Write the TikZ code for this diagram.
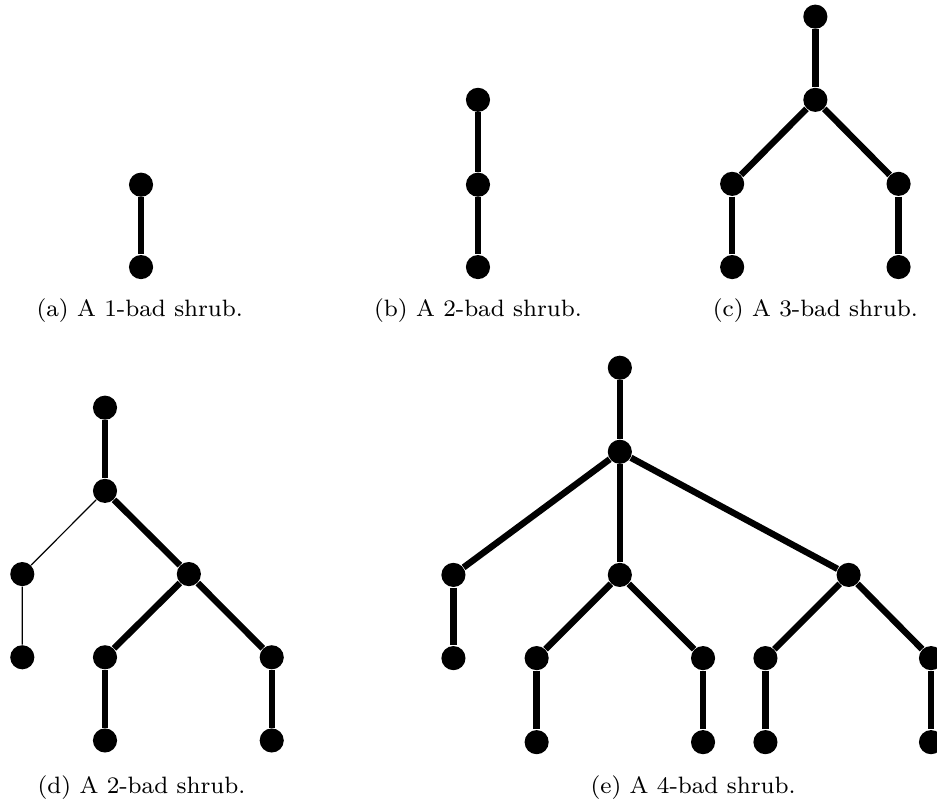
\documentclass[tikz,border=0pt]{standalone}
\usetikzlibrary{positioning}
\begin{document}
\begin{tikzpicture}[
    vtx/.style={circle, fill=black, minimum size=0.29cm, inner sep=0pt},
    tedge/.style={line width=2.2pt},
    fedge/.style={line width=0.4pt},
    subcap/.style={anchor=base, inner sep=0pt,
                   font=\fontsize{8.1}{10}\selectfont},
]
\useasboundingbox (0,0) rectangle (11.262,-9.627);
\clip (0,0) rectangle (11.262,-9.627);

% --- (a): two vertices ---
\node[vtx] (a0) at (1.695,-2.22) {};
\node[vtx] (a1) at (1.695,-3.21) {};
\draw[tedge] (a0) -- (a1);

% --- (b): path on three vertices ---
\foreach \i/\y in {0/-1.20, 1/-2.22, 2/-3.21} {
    \node[vtx] (b\i) at (5.745,\y) {};
}
\draw[tedge] (b0) -- (b1) -- (b2);

% --- (c): root, middle, two branches ---
\node[vtx] (c0) at (9.80,-0.20) {};
\node[vtx] (c1) at (9.80,-1.20) {};
\node[vtx] (c2) at (8.80,-2.21) {};
\node[vtx] (c3) at (10.80,-2.21) {};
\node[vtx] (c4) at (8.80,-3.21) {};
\node[vtx] (c5) at (10.80,-3.21) {};
\foreach \u/\v in {c0/c1, c1/c2, c1/c3, c2/c4, c3/c5} {
    \draw[tedge] (\u) -- (\v);
}

% --- (d): one thin branch on the left ---
\node[vtx] (d0) at (1.262,-4.90) {};
\node[vtx] (d1) at (1.262,-5.90) {};
\node[vtx] (d2) at (0.268,-6.90) {};
\node[vtx] (d3) at (2.270,-6.90) {};
\node[vtx] (d4) at (0.268,-7.90) {};
\node[vtx] (d5) at (1.262,-7.90) {};
\node[vtx] (d6) at (3.266,-7.90) {};
\node[vtx] (d7) at (1.262,-8.90) {};
\node[vtx] (d8) at (3.266,-8.90) {};
\foreach \u/\v in {d0/d1, d1/d3, d3/d5, d3/d6, d5/d7, d6/d8} {
    \draw[tedge] (\u) -- (\v);
}
\draw[fedge] (d1) -- (d2) -- (d4);

% --- (e): three branches below the middle vertex ---
\node[vtx] (e0) at (7.45,-4.42) {};
\node[vtx] (e1) at (7.45,-5.43) {};
\node[vtx] (e2) at (5.45,-6.91) {};
\node[vtx] (e3) at (7.45,-6.91) {};
\node[vtx] (e4) at (10.20,-6.91) {};
\node[vtx] (e5) at (5.45,-7.91) {};
\node[vtx] (e6) at (6.45,-7.91) {};
\node[vtx] (e7) at (8.45,-7.91) {};
\node[vtx] (e8) at (9.20,-7.91) {};
\node[vtx] (e9) at (11.19,-7.91) {};
\node[vtx] (e10) at (6.45,-8.92) {};
\node[vtx] (e11) at (8.45,-8.92) {};
\node[vtx] (e12) at (9.20,-8.92) {};
\node[vtx] (e13) at (11.19,-8.92) {};
\foreach \u/\v in {e0/e1, e1/e2, e1/e3, e1/e4, e2/e5, e3/e6, e3/e7,
                   e4/e8, e4/e9, e6/e10, e7/e11, e8/e12, e9/e13} {
    \draw[tedge] (\u) -- (\v);
}

% --- Sub-captions ---
\node[subcap] (capa) at (1.68,-3.80) {(a) A 1-bad shrub.};
\node[subcap] (capb) at (5.745,-3.80) {(b) A 2-bad shrub.};
\node[subcap] (capc) at (9.80,-3.80) {(c) A 3-bad shrub.};
\node[subcap] (capd) at (1.70,-9.54) {(d) A 2-bad shrub.};
\node[subcap] (cape) at (8.33,-9.54) {(e) A 4-bad shrub.};

\end{tikzpicture}
\end{document}
